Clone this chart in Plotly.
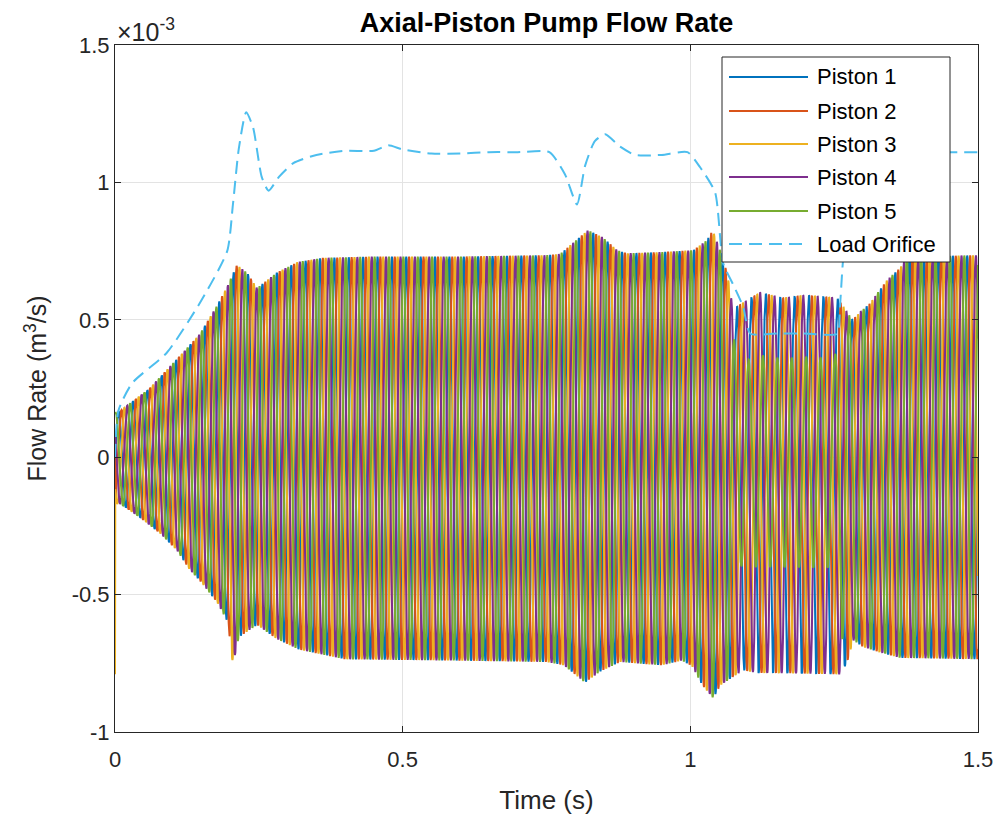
import numpy as np
import plotly.graph_objects as go

# ---------------- data (flow values in units of 1e-3 m^3/s) ----------------
piston_names = ["Piston 1", "Piston 2", "Piston 3", "Piston 4", "Piston 5"]
piston_colors = ["#0072BD", "#D95319", "#EDB120", "#7E2F8E", "#77AC30"]
orifice_name = "Load Orifice"
orifice_color = "#4DBEEE"

# pump shaft cycle period (s), read from stripe spacing
shaft_period = 0.025

# upper (discharge) envelope of piston flow
up_t = [0, 0.01, 0.06, 0.118, 0.148, 0.177, 0.195, 0.212, 0.23, 0.247, 0.28, 0.317, 0.36,
        0.45, 0.6, 0.75, 0.774, 0.796, 0.822, 0.848, 0.873, 0.89, 0.947, 1.005, 1.029,
        1.039, 1.052, 1.064, 1.074, 1.09, 1.121, 1.16, 1.2, 1.255, 1.272, 1.281, 1.312,
        1.342, 1.365, 1.376, 1.5]
up_v = [0.16, 0.17, 0.25, 0.38, 0.45, 0.55, 0.62, 0.70, 0.67, 0.615, 0.67, 0.71, 0.725,
        0.73, 0.73, 0.735, 0.74, 0.78, 0.826, 0.80, 0.753, 0.742, 0.746, 0.753, 0.79,
        0.826, 0.75, 0.67, 0.54, 0.56, 0.60, 0.58, 0.59, 0.58, 0.53, 0.50, 0.56,
        0.645, 0.69, 0.73, 0.735]

# lower (suction) envelope of piston flow
lo_t = [0, 0.01, 0.05, 0.08, 0.108, 0.13, 0.148, 0.178, 0.196, 0.205, 0.215, 0.247, 0.28,
        0.32, 0.4, 0.6, 0.75, 0.78, 0.817, 0.843, 0.878, 0.95, 0.985, 1.003, 1.021, 1.04,
        1.052, 1.07, 1.092, 1.115, 1.15, 1.26, 1.272, 1.283, 1.3, 1.33, 1.365, 1.5]
lo_v = [-0.17, -0.17, -0.23, -0.28, -0.34, -0.41, -0.45, -0.53, -0.60, -0.757, -0.655,
        -0.61, -0.66, -0.70, -0.735, -0.74, -0.745, -0.757, -0.82, -0.78, -0.745, -0.757,
        -0.74, -0.76, -0.83, -0.877, -0.83, -0.805, -0.775, -0.785, -0.785, -0.79, -0.75,
        -0.666, -0.69, -0.71, -0.73, -0.735]

# piston 5 amplitude ratio relative to envelope (reduced stroke 1.07-1.26 s)
p5_scale_t = [0, 1.065, 1.085, 1.25, 1.27, 1.5]
p5_scale_up = [1.0, 1.0, 0.62, 0.62, 1.0, 1.0]
p5_scale_lo = [1.0, 1.0, 0.51, 0.51, 1.0, 1.0]

# flow of each piston at t = 0 (start-up transient)
piston_start = [0.0, 0.0, -0.79, 0.0, 0.16]

# load orifice flow
orifice_t = [0, 0.006, 0.03, 0.09, 0.15, 0.195, 0.205, 0.215, 0.228, 0.24, 0.255, 0.267,
             0.285, 0.31, 0.35, 0.4, 0.45, 0.475, 0.5, 0.55, 0.6, 0.65, 0.7, 0.755, 0.782,
             0.803, 0.817, 0.834, 0.852, 0.878, 0.904, 0.95, 0.995, 1.017, 1.043, 1.057,
             1.074, 1.092, 1.104, 1.15, 1.2, 1.255, 1.26, 1.265, 1.28, 1.3, 1.4, 1.5]
orifice_v = [0.0, 0.17, 0.27, 0.38, 0.57, 0.75, 0.92, 1.12, 1.255, 1.2, 1.02, 0.97,
             1.02, 1.07, 1.10, 1.115, 1.115, 1.135, 1.12, 1.105, 1.105, 1.11, 1.11, 1.11,
             1.03, 0.92, 1.06, 1.15, 1.175, 1.13, 1.10, 1.10, 1.11, 1.055, 0.964, 0.706,
             0.63, 0.546, 0.45, 0.45, 0.45, 0.45, 0.546, 0.706, 1.0, 1.11, 1.11, 1.11]

x_ticks = [0, 0.5, 1, 1.5]
x_tick_text = ["0", "0.5", "1", "1.5"]
y_ticks = [-1, -0.5, 0, 0.5, 1, 1.5]
y_tick_text = ["-1", "-0.5", "0", "0.5", "1", "1.5"]

SCALE = 1e-3

# ---------------- build piston waveforms ----------------
t = np.linspace(0.0005, 1.5, 9000)
env_up = np.interp(t, up_t, up_v)
env_lo = np.interp(t, lo_t, lo_v)
theta = 2 * np.pi * t / shaft_period

fig = go.Figure()
for k, (name, col) in enumerate(zip(piston_names, piston_colors)):
    s = np.sin(theta - 2 * np.pi * k / 5)
    up = env_up.copy()
    lo = -env_lo.copy()
    if k == 4:
        up = up * np.interp(t, p5_scale_t, p5_scale_up)
        lo = lo * np.interp(t, p5_scale_t, p5_scale_lo)
    q = np.where(s >= 0, s * up, s * lo)
    tt = np.concatenate([[0.0], t])
    qq = np.concatenate([[piston_start[k]], q]) * SCALE
    fig.add_trace(go.Scatter(x=tt, y=qq, mode="lines", name=name, showlegend=False,
                             line=dict(color=col, width=2)))

fig.add_trace(go.Scatter(x=orifice_t, y=np.array(orifice_v) * SCALE, mode="lines",
                         name=orifice_name, showlegend=False,
                         line=dict(color=orifice_color, width=2, dash="13px,7px",
                                   shape="spline", smoothing=0.6)))

axis_col = "#262626"
grid_col = "#e3e3e3"
font_family = "Liberation Sans, Arial, sans-serif"

# browser body margin is 8 px, so the figure is offset by 8 px
FIG_W, FIG_H = 996, 811
fig.update_layout(
    width=FIG_W, height=FIG_H,
    margin=dict(l=107, r=26, t=37, b=87, autoexpand=False),
    paper_bgcolor="white", plot_bgcolor="white",
    font=dict(family=font_family, color=axis_col, size=22),
    title=dict(text="<b>Axial-Piston Pump Flow Rate</b>", x=0.5, xref="paper",
               xanchor="center", y=1 - 15 / FIG_H, yanchor="middle",
               font=dict(size=27, color="black")),
    showlegend=False,
)
fig.update_xaxes(
    range=[0, 1.5], tickvals=x_ticks, ticktext=x_tick_text, automargin=False,
    showgrid=True, gridcolor=grid_col, gridwidth=1, zeroline=False,
    ticks="inside", ticklen=6, tickcolor=axis_col, mirror="allticks",
    showline=True, linecolor=axis_col, linewidth=1,
    tickfont=dict(size=22, color=axis_col), ticklabelstandoff=8,
    title=dict(text="Time (s)", font=dict(size=26, color=axis_col), standoff=19),
)
fig.update_yaxes(
    range=[-1e-3, 1.5e-3], automargin=False,
    tickvals=[v * SCALE for v in y_ticks], ticktext=y_tick_text,
    showgrid=True, gridcolor=grid_col, gridwidth=1, zeroline=False,
    ticks="inside", ticklen=6, tickcolor=axis_col, mirror="allticks",
    showline=True, linecolor=axis_col, linewidth=1,
    tickfont=dict(size=22, color=axis_col),
    title=dict(text="Flow Rate (m<sup>3</sup>/s)", font=dict(size=25, color=axis_col),
               standoff=17),
)
fig.add_annotation(text="×10<sup>-3</sup>", xref="paper", yref="paper", x=0, y=1,
                   xanchor="left", yanchor="bottom", showarrow=False,
                   font=dict(size=25, color=axis_col), yshift=-3)

# ---------------- legend box (drawn over the data, like the reference) ----------------
PLOT_X0, PLOT_W, PLOT_Y1, PLOT_H = 115, 863, 732, 687  # screen px of the plot area


def px_x(px):
    return (px - PLOT_X0) / PLOT_W


def px_y(py):
    return (PLOT_Y1 - py) / PLOT_H


fig.add_shape(type="rect", xref="paper", yref="paper",
              x0=px_x(722), x1=px_x(950), y0=px_y(262), y1=px_y(57),
              fillcolor="white", line=dict(color=axis_col, width=1), layer="above")
legend_names = piston_names + [orifice_name]
legend_colors = piston_colors + [orifice_color]
legend_rows = [77, 111, 144, 177, 211, 244]
for i, (nm, col, ry) in enumerate(zip(legend_names, legend_colors, legend_rows)):
    dash = "13px,7px" if nm == orifice_name else "solid"
    fig.add_shape(type="line", xref="paper", yref="paper",
                  x0=px_x(729), x1=px_x(808), y0=px_y(ry), y1=px_y(ry),
                  line=dict(color=col, width=2, dash=dash), layer="above")
    fig.add_annotation(text=nm, xref="paper", yref="paper", x=px_x(815), y=px_y(ry),
                       xanchor="left", yanchor="middle", showarrow=False,
                       font=dict(size=22, color="black"))

fig.write_html("out.html")
